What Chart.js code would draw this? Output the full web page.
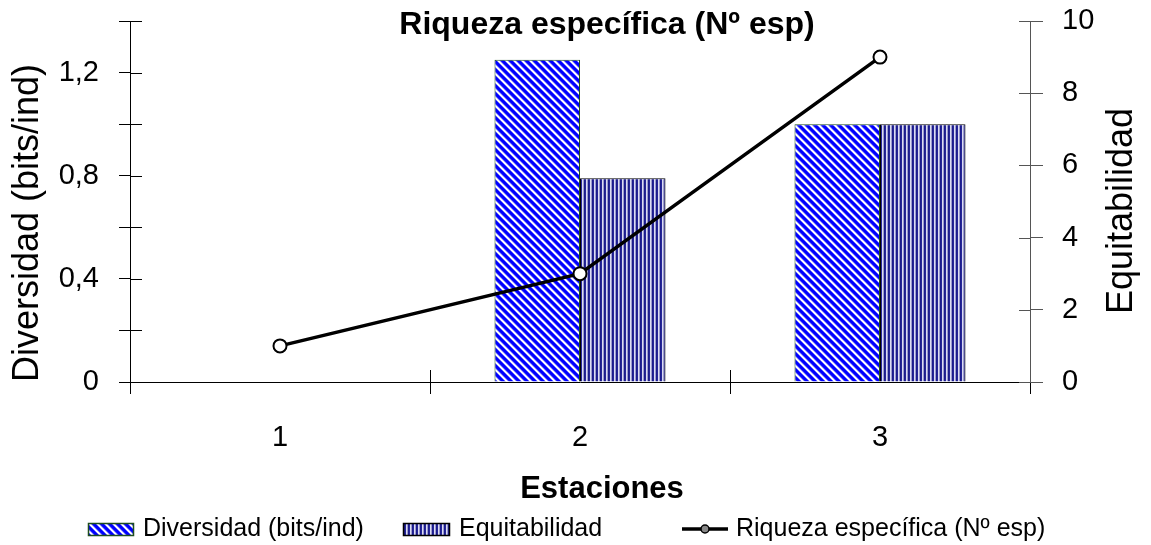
<!DOCTYPE html>
<html><head><meta charset="utf-8">
<script src="https://cdn.jsdelivr.net/npm/chart.js@4/dist/chart.umd.min.js"></script>
<style>html,body{margin:0;padding:0;background:#fff;}#wrap{width:1151px;height:545px;}</style>
</head><body><div id="wrap"><canvas id="c" width="1151" height="545"></canvas></div>
<script>
// ---- data ----
const categories = ['1', '2', '3'];
const diversidad = [0, 1.25, 1.0];
const equitabilidad = [0, 0.79, 1.0];
const riqueza = [1, 3, 9];
const leftTickLabels = ['0', '', '0,4', '', '0,8', '', '1,2', ''];
const rightTickLabels = ['0', '2', '4', '6', '8', '10'];
const seriesNames = ['Diversidad (bits/ind)', 'Equitabilidad', 'Riqueza específica (Nº esp)'];
const chartTitle = 'Riqueza específica (Nº esp)';
const xTitle = 'Estaciones';
const leftTitle = 'Diversidad (bits/ind)';
const rightTitle = 'Equitabilidad';

const FONT = '"Liberation Sans", Arial, Helvetica, sans-serif';

function makeDiagPattern() {
  const c = document.createElement('canvas'); c.width = 8; c.height = 8;
  const g = c.getContext('2d');
  const cols = ['#2020ff', '#0000ff', '#0000ff', '#0000ff', '#6a6aff', '#ffffff', '#ffffff', '#9a9aff'];
  for (let i = 0; i < 8; i++) for (let j = 0; j < 8; j++) {
    g.fillStyle = cols[((i - j) % 8 + 8) % 8];
    g.fillRect(i, j, 1, 1);
  }
  return g.createPattern(c, 'repeat');
}
function makeVertPattern() {
  const c = document.createElement('canvas'); c.width = 4; c.height = 4;
  const g = c.getContext('2d');
  const cols = ['#1c1c8a', '#26269a', '#dcdcf2', '#9a9ad0'];
  for (let i = 0; i < 4; i++) { g.fillStyle = cols[i]; g.fillRect(i, 0, 1, 4); }
  return g.createPattern(c, 'repeat');
}
const ctx0 = document.getElementById('c').getContext('2d');
const divPattern = makeDiagPattern();
const eqPattern = makeVertPattern();

function noPad(s) { s.paddingTop = 0; s.paddingBottom = 0; s.paddingLeft = 0; s.paddingRight = 0; }

const decor = {
  id: 'decor',
  beforeDatasetsDraw(chart) {
    const ctx = chart.ctx, a = chart.chartArea;
    const yl = chart.scales.y, yr = chart.scales.y1, x = chart.scales.x;
    ctx.save();
    ctx.lineWidth = 1;
    ctx.strokeStyle = '#000';
    ctx.beginPath();
    yl.ticks.forEach((t, i) => {
      const p = Math.round(yl.getPixelForTick(i)) + 0.5;
      ctx.moveTo(a.left, p); ctx.lineTo(a.left + 12, p);
    });
    for (let i = 0; i < categories.length - 1; i++) {
      const p = Math.round((x.getPixelForTick(i) + x.getPixelForTick(i + 1)) / 2) + 0.5;
      ctx.moveTo(p, a.bottom); ctx.lineTo(p, a.bottom - 12);
    }
    ctx.stroke();
    ctx.strokeStyle = '#555';
    ctx.beginPath();
    yr.ticks.forEach((t, i) => {
      const p = Math.round(yr.getPixelForTick(i)) + 0.5;
      ctx.moveTo(a.right, p); ctx.lineTo(a.right - 11, p);
    });
    ctx.stroke();
    ctx.restore();
  },
  afterDraw(chart) {
    const ctx = chart.ctx;
    ctx.save();
    ctx.fillStyle = '#000';
    ctx.font = 'bold 32px ' + FONT;
    ctx.textAlign = 'center'; ctx.textBaseline = 'middle';
    ctx.fillText(chartTitle, 607, 25);
    ctx.font = 'bold 31px ' + FONT;
    ctx.textBaseline = 'alphabetic';
    ctx.fillText(xTitle, 602, 498);
    ctx.font = '36px ' + FONT;
    ctx.textBaseline = 'middle';
    ctx.save(); ctx.translate(28, 223); ctx.rotate(-Math.PI / 2); ctx.fillText(leftTitle, 0, 0); ctx.restore();
    ctx.save(); ctx.translate(1122, 211); ctx.rotate(-Math.PI / 2); ctx.fillText(rightTitle, 0, 0); ctx.restore();
    const ly = 529;
    ctx.font = '25px ' + FONT;
    ctx.textAlign = 'left'; ctx.textBaseline = 'middle';
    ctx.fillStyle = divPattern; ctx.fillRect(88, 523, 45, 12);
    ctx.strokeStyle = '#1e4d1e'; ctx.lineWidth = 1.5; ctx.strokeRect(88.5, 523.5, 45, 12);
    ctx.fillStyle = '#000'; ctx.fillText(seriesNames[0], 143, ly);
    ctx.fillStyle = eqPattern; ctx.fillRect(403, 523, 46, 12);
    ctx.strokeStyle = '#000'; ctx.strokeRect(403.5, 523.5, 46, 12);
    ctx.fillStyle = '#000'; ctx.fillText(seriesNames[1], 459, ly);
    ctx.lineWidth = 3.5; ctx.beginPath(); ctx.moveTo(682, ly); ctx.lineTo(728, ly); ctx.stroke();
    ctx.lineWidth = 1.5; ctx.fillStyle = '#888'; ctx.beginPath(); ctx.arc(705, ly, 4, 0, Math.PI * 2); ctx.fill(); ctx.stroke();
    ctx.fillStyle = '#000'; ctx.fillText(seriesNames[2], 736, ly);
    ctx.restore();
  }
};

new Chart(ctx0, {
  data: {
    labels: categories,
    datasets: [
      { type: 'bar', label: seriesNames[0], data: diversidad, yAxisID: 'y', order: 1,
        backgroundColor: divPattern, borderColor: '#1e4d1e', borderWidth: 1,
        categoryPercentage: 0.57, barPercentage: 1.0 },
      { type: 'bar', label: seriesNames[1], data: equitabilidad, yAxisID: 'y', order: 1,
        backgroundColor: eqPattern, borderColor: '#000', borderWidth: 1,
        categoryPercentage: 0.57, barPercentage: 1.0 },
      { type: 'line', label: seriesNames[2], data: riqueza, yAxisID: 'y1', order: 0,
        borderColor: '#000', borderWidth: 3.5, tension: 0,
        pointRadius: 6.5, pointBackgroundColor: '#fff', pointBorderColor: '#000', pointBorderWidth: 2 }
    ]
  },
  options: {
    responsive: false, animation: false, devicePixelRatio: 1, events: [],
    layout: { padding: { top: 21, left: 0, right: 0, bottom: 0 } },
    plugins: { legend: { display: false }, title: { display: false }, tooltip: { enabled: false } },
    scales: {
      x: {
        type: 'category', offset: true,
        grid: { offset: true, drawOnChartArea: false, drawTicks: true, tickLength: 12, color: '#000', lineWidth: 1 },
        border: { display: true, color: '#000', width: 1 },
        ticks: { color: '#000', font: { family: FONT, size: 29 }, padding: 27, maxRotation: 0 },
        afterFit(s) { s.height = 163; noPad(s); }
      },
      y: {
        position: 'left', min: 0, max: 1.4,
        grid: { drawOnChartArea: false, drawTicks: true, tickLength: 11, color: '#000' },
        border: { display: true, color: '#000', width: 1 },
        ticks: { stepSize: 0.2, color: '#000', font: { family: FONT, size: 29 }, padding: 20,
          callback: (v, i) => leftTickLabels[i] },
        afterFit(s) { s.width = 130; noPad(s); }
      },
      y1: {
        position: 'right', min: 0, max: 10,
        grid: { drawOnChartArea: false, drawTicks: true, tickLength: 13, color: '#555' },
        border: { display: true, color: '#555', width: 1 },
        ticks: { stepSize: 2, color: '#000', font: { family: FONT, size: 29 }, padding: 19,
          callback: (v, i) => rightTickLabels[i] },
        afterFit(s) { s.width = 121; noPad(s); }
      }
    }
  },
  plugins: [decor]
});
</script>
</body></html>
